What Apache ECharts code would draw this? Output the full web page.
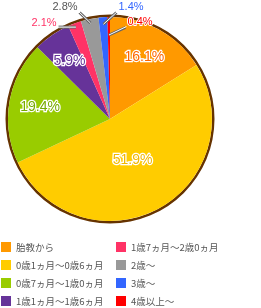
<!DOCTYPE html>
<html><head><meta charset="utf-8">
<script src="https://cdn.jsdelivr.net/npm/echarts@6/dist/echarts.min.js"></script>
<style>html,body{margin:0;padding:0;background:#fff}#c{width:261px;height:308px}</style>
</head><body><div id="c"></div>
<script>
const categories = ['胎教から','0歳1ヵ月～0歳6ヵ月','0歳7ヵ月～1歳0ヵ月','1歳1ヵ月～1歳6ヵ月','1歳7ヵ月～2歳0ヵ月','2歳～','3歳～','4歳以上～'];
const values = [16.1, 51.9, 19.4, 5.9, 2.1, 2.8, 1.4, 0.4];
const colors = ['#FF9900','#FFCC00','#99CC00','#663399','#FF3366','#999999','#3366FF','#FF0000'];
const labelColors = ['#FF6600','#F2B800','#77AA00','#663399','#FF3366','#555555','#3366FF','#FF0000'];

const CENTER = [110, 119];
const R = 102;
const numFont = 'Liberation Sans, Arial, sans-serif';
const jpFont = '"Noto Sans CJK JP", sans-serif';

// outer label anchor points and leader-line depth (layout only)
const outerPos = {4: [44, 23], 5: [65, 7], 6: [131, 7], 7: [140, 22]};
const lineDepth = {4: 4, 5: 4, 6: 7, 7: 18};

const total = values.reduce((a, b) => a + b, 0);
const midFrac = [];
(function () { let s = 0; values.forEach(v => { midFrac.push((s + v / 2) / total); s += v; }); })();

function layoutOuter(p) {
  const pos = outerPos[p.dataIndex];
  if (!pos) return {};
  const w = p.labelRect.width, h = p.labelRect.height;
  const a = midFrac[p.dataIndex] * 2 * Math.PI;
  const r = R - lineDepth[p.dataIndex];
  const ix = CENTER[0] + r * Math.sin(a), iy = CENTER[1] - r * Math.cos(a);
  const left = pos[0] - w / 2, right = pos[0] + w / 2, top = pos[1] - h / 2, bottom = pos[1] + h / 2;
  const ex = ix < pos[0] ? left - 1 : right + 1;
  const ey = Math.min(Math.max(iy, top + 2), bottom - 1);
  return {x: pos[0], y: pos[1], align: 'center', verticalAlign: 'middle',
          labelLinePoints: [[ix, iy], [ex, ey], [ex, ey]]};
}

function outerData(textVisible) {
  return values.map((v, i) => {
    const showOut = i >= 4;
    return {
      name: categories[i], value: v,
      itemStyle: {color: 'rgba(0,0,0,0)'},
      label: {show: showOut, position: 'outside',
              color: textVisible ? labelColors[i] : 'rgba(0,0,0,0)'},
      labelLine: {show: showOut}
    };
  });
}
const fillData = values.map((v, i) => ({name: categories[i], value: v, itemStyle: {color: colors[i]}}));
const innerA = values.map((v, i) => ({
  value: v,
  label: {show: i === 0 || i === 2 || i === 3, color: labelColors[i]}
}));
const innerB = values.map((v, i) => ({
  value: v,
  label: {show: i === 1, color: labelColors[i]}
}));

const innerLabel = {
  position: 'inside', formatter: '{c}%', fontSize: 14, fontFamily: numFont,
  textBorderColor: '#fff', textBorderWidth: 2.5
};
const overlay = (radius, data) => ({
  type: 'pie', center: CENTER, radius: radius, silent: true, z: 6,
  itemStyle: {color: 'rgba(0,0,0,0)'}, emphasis: {disabled: true},
  label: innerLabel, labelLine: {show: false}, data: data, animation: false
});

function outerSeries(textVisible, lineColor, lineWidth, z) {
  return {
    type: 'pie', center: CENTER, radius: [0, R], startAngle: 90, clockwise: true,
    silent: true, z: z, avoidLabelOverlap: false, emphasis: {disabled: true},
    label: {formatter: '{c}%', fontSize: 11, fontFamily: numFont, overflow: 'none',
            textBorderColor: textVisible ? '#fff' : 'rgba(0,0,0,0)', textBorderWidth: textVisible ? 2 : 0},
    labelLine: {length: 6, length2: 6, lineStyle: {color: lineColor, width: lineWidth}},
    labelLayout: layoutOuter,
    data: outerData(textVisible)
  };
}

const legendCommon = {
  orient: 'vertical', itemWidth: 10, itemHeight: 10, itemGap: 6, itemTextGap: 6,
  icon: 'rect', selectedMode: false, height: 80, padding: 0,
  textStyle: {fontSize: 9.5, color: '#555', fontFamily: jpFont, lineHeight: 12}
};

const chart = echarts.init(document.getElementById('c'));
chart.setOption({
  animation: false,
  legend: [
    Object.assign({left: 1, top: 241, data: categories.slice(0, 4)}, legendCommon),
    Object.assign({left: 116, top: 241, data: categories.slice(4)}, legendCommon)
  ],
  series: [
    {
      type: 'pie', center: CENTER, radius: [0, R], startAngle: 90, clockwise: true,
      silent: true, z: 2, label: {show: false}, labelLine: {show: false},
      data: fillData
    },
    {
      type: 'pie', center: CENTER, radius: [R, R + 2.5], silent: true, z: 1,
      label: {show: false}, labelLine: {show: false},
      itemStyle: {color: '#663300'}, data: [{value: 1, name: '_ring'}]
    },
    outerSeries(true, '#666', 3, 4),
    outerSeries(false, '#fff', 1, 5),
    overlay([0, 136], innerA),
    overlay([0, 88], innerB)
  ]
});
</script></body></html>
